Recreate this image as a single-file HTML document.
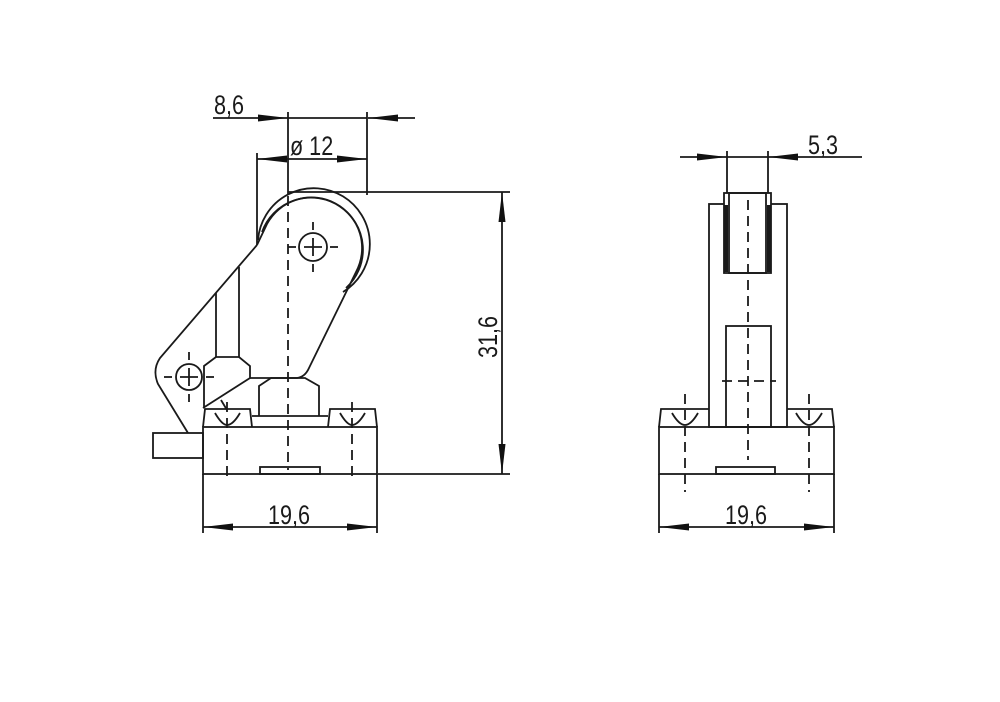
<!DOCTYPE html>
<html><head><style>html,body{margin:0;padding:0;background:#fff}</style></head><body>
<svg width="1000" height="697" viewBox="0 0 1000 697" xmlns="http://www.w3.org/2000/svg" font-family="'Liberation Sans','DejaVu Sans',sans-serif">
<defs>
<marker id="a" viewBox="0 0 30 7" refX="30" refY="3.5" markerWidth="30" markerHeight="7" markerUnits="userSpaceOnUse" orient="auto-start-reverse"><path d="M0,0L30,3.5L0,7z" fill="#111"/></marker>
</defs>
<g stroke="#1a1a1a" fill="none" stroke-width="1.8">
<line x1="213" y1="118" x2="288" y2="118" marker-end="url(#a)"/>
<line x1="288" y1="118" x2="367" y2="118"/>
<line x1="415" y1="118" x2="368" y2="118" marker-end="url(#a)"/>
<line x1="288" y1="112" x2="288" y2="195"/>
<line x1="367" y1="112" x2="367" y2="195"/>
<line x1="257" y1="159" x2="367" y2="159" marker-start="url(#a)" marker-end="url(#a)"/>
<line x1="257" y1="153" x2="257" y2="245"/>
<line x1="288" y1="192" x2="510" y2="192"/>
<line x1="378" y1="474" x2="510" y2="474"/>
<line x1="502" y1="192" x2="502" y2="474" marker-start="url(#a)" marker-end="url(#a)"/>
<line x1="203" y1="474" x2="203" y2="533"/>
<line x1="377" y1="474" x2="377" y2="533"/>
<line x1="203" y1="527" x2="377" y2="527" marker-start="url(#a)" marker-end="url(#a)"/>
<path d="M258,240 A56,56 0 1 1 343,292"/>
<path d="M262,232 A52,52 0 1 1 346,288"/>
<path d="M257,245 L160,358 Q152,370 158,384 L188,433"/>
<path d="M257,245 L267,224 A47,47 0 0 1 356,272 L309,368 Q305,377 297,378 L250,378"/>
<circle cx="313" cy="247" r="14"/>
<circle cx="189" cy="377" r="13"/>
<line x1="216" y1="293" x2="216" y2="357"/>
<line x1="239" y1="267" x2="239" y2="357"/>
<path d="M216,357 L239,357 L250,366 L250,378 L203,408 M204,408 L204,366 L216,357"/>
<line x1="221" y1="400" x2="227" y2="410"/>
<rect x="203" y="427" width="174" height="47"/>
<rect x="153" y="433" width="50" height="25"/>
<path d="M203,427 L205,409 L250,409 L252,427 M252,416 L328,416 M328,427 L330,409 L375,409 L377,427"/>
<path d="M259,416 L259,386 L271,378 L305,378 L319,386 L319,416"/>
<rect x="260" y="467" width="60" height="7"/>
<path d="M215,413 Q222,425 227,425 Q233,425 240,413 M340,413 Q347,425 352,425 Q358,425 365,413"/>
<line x1="680" y1="157" x2="727" y2="157" marker-end="url(#a)"/>
<line x1="727" y1="157" x2="768" y2="157"/>
<line x1="862" y1="157" x2="768" y2="157" marker-end="url(#a)"/>
<line x1="727" y1="151" x2="727" y2="194"/>
<line x1="768" y1="151" x2="768" y2="194"/>
<rect x="709" y="204" width="78" height="223"/>
<rect x="724" y="193" width="47" height="80" fill="#fff"/>
<rect x="729" y="193" width="37" height="80"/>
<line x1="726" y1="205" x2="726" y2="272" stroke-width="4"/>
<line x1="769" y1="205" x2="769" y2="272" stroke-width="4"/>
<rect x="726" y="326" width="45" height="101"/>
<rect x="659" y="427" width="175" height="47"/>
<path d="M659,427 L661,409 L709,409 M787,409 L832,409 L834,427"/>
<rect x="716" y="467" width="59" height="7"/>
<path d="M672,413 Q679,425 685,425 Q691,425 698,413 M796,413 Q803,425 809,425 Q815,425 822,413"/>
<line x1="659" y1="474" x2="659" y2="533"/>
<line x1="834" y1="474" x2="834" y2="533"/>
<line x1="659" y1="527" x2="834" y2="527" marker-start="url(#a)" marker-end="url(#a)"/>
</g>
<g stroke="#1a1a1a" stroke-width="1.8" stroke-dasharray="10,6" fill="none">
<line x1="288" y1="196" x2="288" y2="470"/>
<line x1="227" y1="402" x2="227" y2="482"/>
<line x1="352" y1="402" x2="352" y2="482"/>
<line x1="748" y1="200" x2="748" y2="460"/>
<line x1="685" y1="394" x2="685" y2="492"/>
<line x1="809" y1="394" x2="809" y2="492"/>
<line x1="722" y1="381" x2="776" y2="381"/>
</g>
<g stroke="#1a1a1a" stroke-width="1.8">
<line x1="313" y1="222" x2="313" y2="230"/><line x1="313" y1="264" x2="313" y2="272"/>
<line x1="288" y1="247" x2="296" y2="247"/><line x1="330" y1="247" x2="338" y2="247"/>
<line x1="304" y1="247" x2="322" y2="247"/><line x1="313" y1="238" x2="313" y2="256"/>
<line x1="189" y1="352" x2="189" y2="360"/><line x1="189" y1="394" x2="189" y2="402"/>
<line x1="164" y1="377" x2="172" y2="377"/><line x1="206" y1="377" x2="214" y2="377"/>
<line x1="180" y1="377" x2="198" y2="377"/><line x1="189" y1="368" x2="189" y2="386"/>
</g>
<g fill="#1a1a1a" font-size="27">
<text transform="translate(214,114) scale(0.8,1)">8,6</text>
<text transform="translate(290,155) scale(0.8,1)">ø 12</text>
<text transform="translate(808,154) scale(0.8,1)">5,3</text>
<text transform="translate(268,524) scale(0.8,1)">19,6</text>
<text transform="translate(725,524) scale(0.8,1)">19,6</text>
<text transform="translate(497,358) rotate(-90) scale(0.8,1)">31,6</text>
</g>
</svg>
</body></html>
